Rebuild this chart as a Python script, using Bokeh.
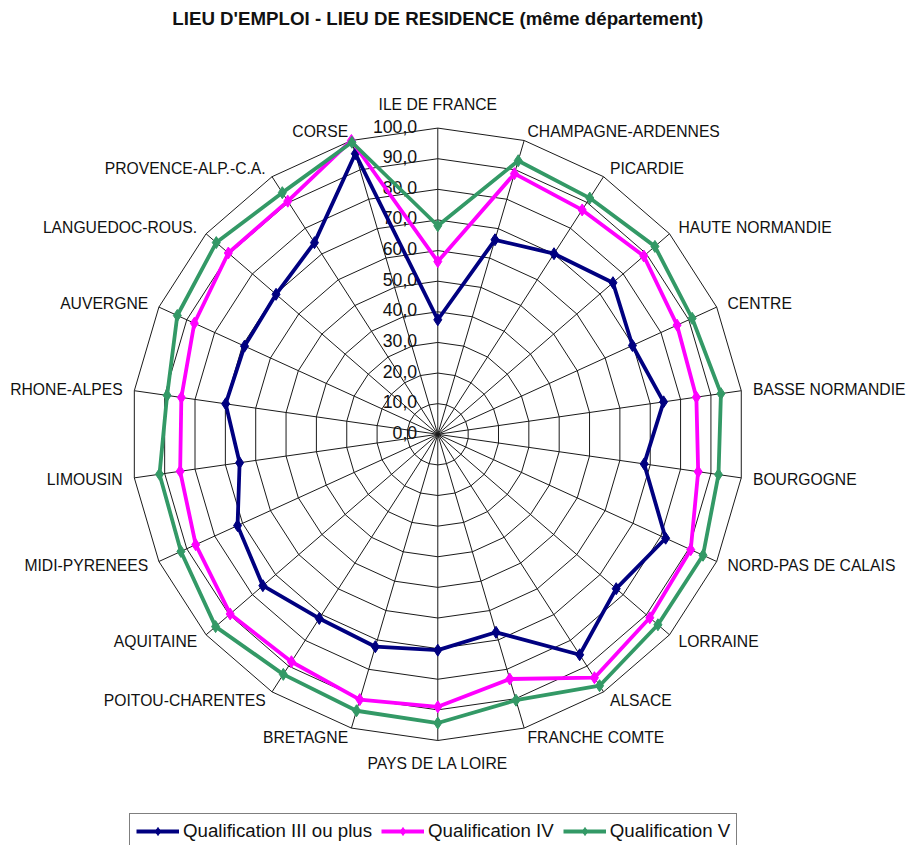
import math
from bokeh.plotting import figure
from bokeh.models import Range1d, Legend, LegendItem, ColumnDataSource, Label
from bokeh.core.properties import value
from bokeh.embed import file_html
from bokeh.resources import INLINE

# ---------------- data ----------------
categories = ["ILE DE FRANCE", "CHAMPAGNE-ARDENNES", "PICARDIE", "HAUTE NORMANDIE",
              "CENTRE", "BASSE NORMANDIE", "BOURGOGNE", "NORD-PAS DE CALAIS",
              "LORRAINE", "ALSACE", "FRANCHE COMTE", "PAYS DE LA LOIRE", "BRETAGNE",
              "POITOU-CHARENTES", "AQUITAINE", "MIDI-PYRENEES", "LIMOUSIN",
              "RHONE-ALPES", "AUVERGNE", "LANGUEDOC-ROUS.", "PROVENCE-ALP.-C.A.", "CORSE"]
qual_III = [37.4, 66.2, 70.1, 75.6, 69.8, 74.4, 68.0, 81.7, 77.0, 85.6, 67.4,
            70.5, 72.3, 71.5, 75.5, 71.8, 65.3, 69.9, 69.3, 69.8, 74.4, 95.5]
qual_IV = [56.4, 88.7, 87.1, 88.9, 85.8, 85.2, 85.8, 90.7, 91.5, 94.5, 83.3,
           89.0, 90.3, 88.3, 89.6, 86.8, 84.9, 84.5, 87.3, 90.4, 90.5, 100.0]
qual_V = [68.1, 93.1, 91.7, 93.7, 91.2, 93.3, 92.5, 95.1, 95.0, 97.6, 90.5,
          94.3, 94.1, 93.2, 95.9, 92.1, 91.7, 89.2, 93.4, 95.6, 93.8, 99.4]
series_names = ["Qualification III ou plus", "Qualification IV", "Qualification V"]
tick_values = [0, 10, 20, 30, 40, 50, 60, 70, 80, 90, 100]
tick_labels = ["0,0", "10,0", "20,0", "30,0", "40,0", "50,0", "60,0", "70,0", "80,0", "90,0", "100,0"]
title_text = "LIEU D'EMPLOI - LIEU DE RESIDENCE (même département)"

# ---------------- geometry ----------------
W, H = 908, 845
RW, RH = 924, 861          # reference layout size
K = W / RW                 # scale of the layout
PX = 3.12                  # reference pixels per value unit
CX, CY = 445, 442          # centre in reference px
x0 = (0 - CX) / PX
x1 = (RW - CX) / PX
y1 = CY / PX
y0 = (CY - RH) / PX

def fs(px):
    return "%.1fpx" % (px * K)

n = len(categories)
angles = [2 * math.pi * i / n for i in range(n)]

def polar(vals):
    xs = [v * math.sin(a) for v, a in zip(vals, angles)]
    ys = [v * math.cos(a) for v, a in zip(vals, angles)]
    return xs, ys

FONT = "Liberation Sans"

p = figure(width=W, height=H, output_backend="svg", toolbar_location=None,
           x_range=Range1d(x0, x1), y_range=Range1d(y0, y1),
           x_axis_location=None, y_axis_location=None, min_border=0,
           outline_line_color=None, background_fill_color="white",
           border_fill_color="white")
p.grid.visible = False

# rings
for v in tick_values[1:]:
    xs, ys = polar([v] * n)
    p.line(xs + [xs[0]], ys + [ys[0]], line_color="#1a1a1a", line_width=1)
# spokes
for a in angles:
    p.line([0, 100 * math.sin(a)], [0, 100 * math.cos(a)], line_color="#1a1a1a", line_width=1)

# value tick labels along the first spoke
p.text(x=[0] * len(tick_values), y=tick_values, text=tick_labels,
       text_align="right", text_baseline="middle", x_offset=-21 * K, y_offset=-2 * K,
       text_font=value(FONT), text_font_size=fs(18), text_color="#111111")

# category labels
lx, ly, lt, la, xo, yo = [], [], [], [], [], []
for cat, a in zip(categories, angles):
    s, c = math.sin(a), math.cos(a)
    lx.append(100 * s)
    ly.append(100 * c)
    lt.append(cat)
    if abs(s) < 1e-6:
        la.append("center")
        xo.append(0)
        yo.append((-24 if c > 0 else 23) * K)
    else:
        la.append("left" if s > 0 else "right")
        xo.append(12 * s * K)
        yo.append(-10 * c * K)
src = ColumnDataSource(dict(x=lx, y=ly, text=lt, align=la, xo=xo, yo=yo))
p.text(x="x", y="y", text="text", text_align="align", x_offset="xo", y_offset="yo",
       text_baseline="middle", text_font=value(FONT), text_font_size=fs(16),
       text_color="#111111", source=src)

# series
colors = ["#000080", "#FF00FF", "#339966"]
items = []
for name, vals, col in zip(series_names, [qual_III, qual_IV, qual_V], colors):
    xs, ys = polar(vals)
    lr = p.line(xs + [xs[0]], ys + [ys[0]], line_color=col, line_width=3.8)
    sr = p.scatter(xs, ys, marker="diamond", size=12, fill_color=col, line_color=col)
    items.append(LegendItem(label=name, renderers=[lr, sr]))

legend = Legend(items=items, orientation="horizontal", location=(129, -4),
                border_line_color="black", border_line_width=1,
                background_fill_color="white", background_fill_alpha=1,
                padding=6, spacing=9, label_standoff=4, glyph_width=43,
                glyph_height=20, label_height=20, margin=0,
                label_text_font=FONT, label_text_font_size=fs(19),
                label_text_color="#111111")
p.add_layout(legend, "center")

p.add_layout(Label(x=0, y=(CY - 18) / PX, text=title_text, text_align="center",
                   text_baseline="middle", text_font=FONT, text_font_size=fs(19),
                   text_font_style="bold", text_color="#111111"))

open("out.html", "w").write(file_html(p, INLINE))
